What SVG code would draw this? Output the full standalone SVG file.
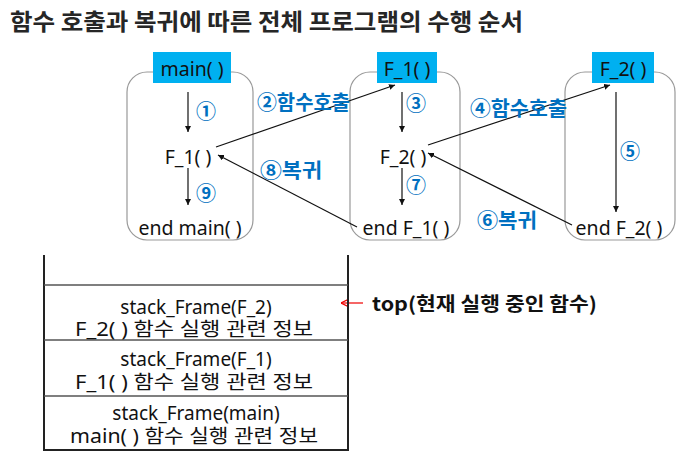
<svg xmlns="http://www.w3.org/2000/svg" width="698" height="459" viewBox="0 0 698 459">
<defs>
<style>
.t{font-family:"Noto Sans","Noto Sans CJK KR",sans-serif;fill:#111;}
.n{font-size:19.5px;}
.s{font-size:19px;}
.lab{font-family:"Noto Sans CJK KR",sans-serif;font-weight:bold;fill:#0070C0;font-size:20px;}
.frame{fill:#fff;stroke:#999;stroke-width:1.2;}
.hdr{fill:#00B0F0;}
.ln{stroke:#111;stroke-width:1.2;fill:none;}
.stk{stroke:#222;stroke-width:2;fill:none;}
.sl{stroke:#555;stroke-width:1.5;}
</style>
<marker id="ah" viewBox="0 0 10 10" refX="10" refY="5" markerWidth="6" markerHeight="6" orient="auto" markerUnits="userSpaceOnUse">
<path d="M0,0 L10,5 L0,10 z" fill="#111"/>
</marker>
<marker id="ahr" viewBox="0 0 10 10" refX="10" refY="5" markerWidth="8" markerHeight="8" orient="auto" markerUnits="userSpaceOnUse">
<path d="M0,0 L10,5 L0,10" fill="none" stroke="#e00" stroke-width="1.5"/>
</marker>
</defs>
<rect width="698" height="459" fill="#fff"/>
<text x="10" y="30" font-family="'Noto Sans CJK KR',sans-serif" font-weight="bold" font-size="23" fill="#262626" textLength="513" lengthAdjust="spacingAndGlyphs">함수 호출과 복귀에 따른 전체 프로그램의 수행 순서</text>

<g id="main">
<rect class="frame" x="127" y="72" width="126" height="168" rx="20"/>
<rect class="hdr" x="153" y="52" width="78" height="31"/>
<text class="t n" x="192" y="76" text-anchor="middle">main( )</text>
<text class="t n" x="188" y="164" text-anchor="middle">F_1( )</text>
<text class="t n" x="190" y="235" text-anchor="middle">end main( )</text>
</g>
<g id="f1">
<rect class="frame" x="350" y="72" width="110" height="168" rx="20"/>
<rect class="hdr" x="377" y="52" width="60" height="31"/>
<text class="t n" x="407" y="76" text-anchor="middle">F_1( )</text>
<text class="t n" x="403" y="164" text-anchor="middle">F_2( )</text>
<text class="t n" x="406" y="235" text-anchor="middle">end F_1( )</text>
</g>
<g id="f2">
<rect class="frame" x="565" y="72" width="110" height="168" rx="20"/>
<rect class="hdr" x="592" y="52" width="62" height="31"/>
<text class="t n" x="623" y="76" text-anchor="middle">F_2( )</text>
<text class="t n" x="619" y="235" text-anchor="middle">end F_2( )</text>
</g>

<g id="connectors">
<line class="ln" x1="188" y1="92" x2="188" y2="132" marker-end="url(#ah)"/>
<line class="ln" x1="188" y1="168" x2="188" y2="205" marker-end="url(#ah)"/>
<line class="ln" x1="402" y1="92" x2="402" y2="132" marker-end="url(#ah)"/>
<line class="ln" x1="402" y1="168" x2="402" y2="205" marker-end="url(#ah)"/>
<line class="ln" x1="616" y1="92" x2="616" y2="212" marker-end="url(#ah)"/>
<line class="ln" x1="216" y1="147" x2="395" y2="85" marker-end="url(#ah)"/>
<line class="ln" x1="428" y1="145" x2="610" y2="85" marker-end="url(#ah)"/>
<line class="ln" x1="572" y1="225" x2="428" y2="153" marker-end="url(#ah)"/>
<line class="ln" x1="357" y1="227" x2="218" y2="155" marker-end="url(#ah)"/>
<line x1="363" y1="303" x2="341" y2="303" stroke="#e00" stroke-width="1.2" marker-end="url(#ahr)"/>
</g>

<g id="labels">
<text class="lab" x="206" y="119" text-anchor="middle" font-size="25">①</text>
<text class="lab" x="206" y="201" text-anchor="middle" font-size="25">⑨</text>
<text class="lab" x="416" y="111" text-anchor="middle" font-size="15">③</text>
<text class="lab" x="416" y="193" text-anchor="middle" font-size="15">⑦</text>
<text class="lab" x="630" y="159" text-anchor="middle" font-size="16">⑤</text>
<text class="lab" x="257" y="110" textLength="93" lengthAdjust="spacingAndGlyphs">②함수호출</text>
<text class="lab" x="260" y="178" textLength="62" lengthAdjust="spacingAndGlyphs">⑧복귀</text>
<text class="lab" x="470" y="116" textLength="97" lengthAdjust="spacingAndGlyphs">④함수호출</text>
<text class="lab" x="477" y="228" textLength="60" lengthAdjust="spacingAndGlyphs">⑥복귀</text>
</g>

<g id="stack">
<path class="stk" d="M44,255 V450 H348 V255"/>
<line class="sl" x1="44" y1="285" x2="348" y2="285"/>
<line class="sl" x1="44" y1="340" x2="348" y2="340"/>
<line class="sl" x1="44" y1="396" x2="348" y2="396"/>
<g id="frame-f2">
<text class="t s"><tspan x="196" y="314" text-anchor="middle">stack_Frame(F_2)</tspan><tspan x="75" y="336" textLength="238" lengthAdjust="spacingAndGlyphs">F_2( ) 함수 실행 관련 정보</tspan></text>
</g>
<g id="frame-f1">
<text class="t s"><tspan x="196" y="366" text-anchor="middle">stack_Frame(F_1)</tspan><tspan x="75" y="389" textLength="238" lengthAdjust="spacingAndGlyphs">F_1( ) 함수 실행 관련 정보</tspan></text>
</g>
<g id="frame-main">
<text class="t s"><tspan x="196" y="420" text-anchor="middle">stack_Frame(main)</tspan><tspan x="70" y="443" textLength="248" lengthAdjust="spacingAndGlyphs">main( ) 함수 실행 관련 정보</tspan></text>
</g>
</g>
<g id="top">
<text x="372" y="311" font-family="'Noto Sans CJK KR',sans-serif" font-weight="bold" font-size="19" fill="#111" textLength="225" lengthAdjust="spacingAndGlyphs">top(현재 실행 중인 함수)</text>
</g>
</svg>
